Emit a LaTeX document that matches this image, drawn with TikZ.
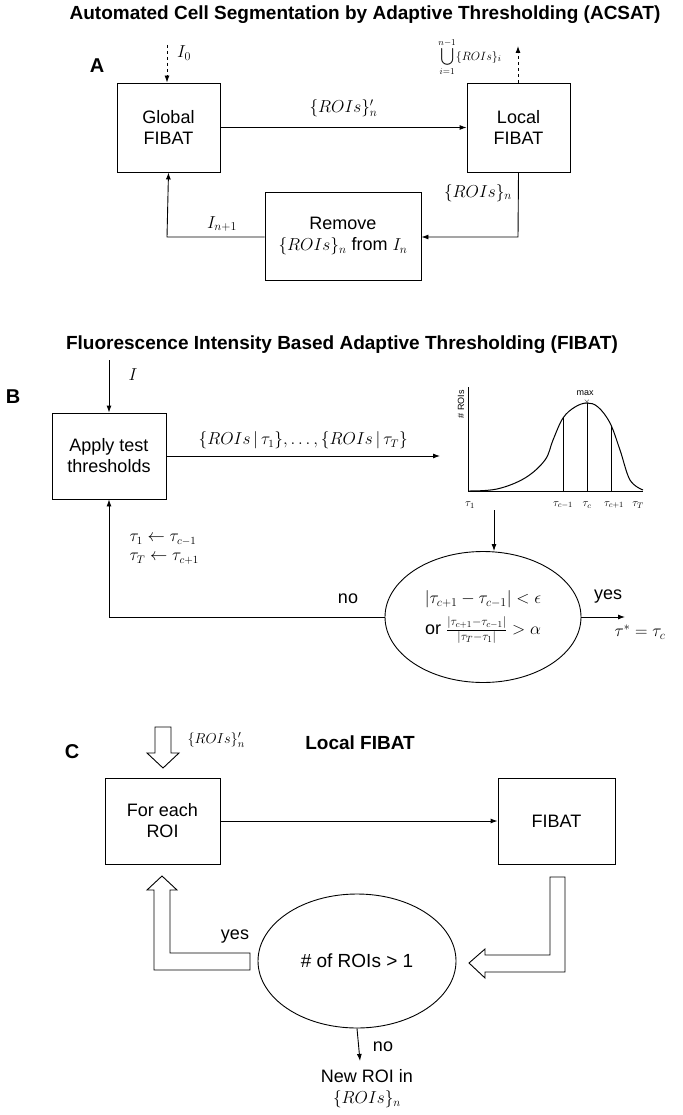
\documentclass[tikz,border=0pt]{standalone}
\usepackage{fontspec}
\setmainfont{Liberation Sans}
\usepackage{amsmath}
\usetikzlibrary{shapes.geometric,arrows.meta}
\begin{document}
\begin{tikzpicture}[x=1pt,y=-1pt,
  box/.style={draw,line width=0.9pt,inner sep=0pt,align=center,font=\fontsize{18}{21}\selectfont},
  ell/.style={draw,ellipse,line width=0.9pt,inner sep=0pt,align=center},
  ar/.style={-{Latex[length=7pt,width=5pt]},line width=0.9pt},
  ttl/.style={font=\bfseries\fontsize{19}{22}\selectfont},
  lab/.style={font=\bfseries\fontsize{20}{23}\selectfont},
  txt/.style={font=\fontsize{18}{21}\selectfont},
  hol/.style={draw,line width=0.9pt,fill=white}]
\useasboundingbox (0,0) rectangle (682,1115);
% ---------- A
\node[ttl] (ta) at (365,15) {Automated Cell Segmentation by Adaptive Thresholding (ACSAT)};
\node[lab] (la) at (97,66) {A};
\node[box,minimum width=103pt,minimum height=89pt] (glob) at (168.5,127.5) {Global\\FIBAT};
\node[box,minimum width=103pt,minimum height=89pt] (loc) at (518.5,127.5) {Local\\FIBAT};
\node[box,minimum width=156pt,minimum height=88pt] (rem) at (343,236) {Remove\\$\{ROIs\}_n$ from $I_n$};
\coordinate (i0) at (167,45);
\coordinate (uo) at (518,46);
\draw[ar,dashed] (i0) -- (glob.north-|i0);
\draw[ar,dashed] (loc.north-|uo) -- (uo);
\node[txt] at (184,53) {$I_0$};
\node[font=\fontsize{13}{15}\selectfont] at (470,57) {$\displaystyle\bigcup_{i=1}^{n-1}\{ROIs\}_i$};
\draw[ar] (glob) -- node[above=7pt,txt]{$\{ROIs\}'_n$} (loc);
\coordinate (c1) at (518,237);
\coordinate (c2) at (167,237);
\draw[ar] (loc.south) -- (c1) -- (rem.east|-c1);
\node[txt] at (478,193) {$\{ROIs\}_n$};
\draw[ar] (rem.west|-c2) -- (c2) -- (glob.south);
\node[txt] at (222,224) {$I_{n+1}$};
% ---------- B
\node[ttl] (tb) at (342,345) {Fluorescence Intensity Based Adaptive Thresholding (FIBAT)};
\node[lab] (lb) at (13,397) {B};
\coordinate (iin) at (109,360);
\node[box,minimum width=114pt,minimum height=86pt] (app) at (109,456) {Apply test\\thresholds};
\draw[ar] (iin) -- (app.north);
\node[txt] at (133,375) {$I$};
\coordinate (gr) at (440,456);
\draw[ar] (app.east|-gr) -- node[above=3pt,font=\fontsize{16}{18}\selectfont]{$\{ROIs\,|\,\tau_1\},\ldots,\{ROIs\,|\,\tau_T\}$} (gr);
% graph
\draw[line width=1pt] (468,387) -- (468,491) -- (643,491);
\draw[line width=1pt] plot[smooth,tension=0.6] coordinates{(468,491)(497,489)(525,478)(545,460)(553,440)(563,418)(575,407)(587,403)(598,407)(610,423)(620,450)(630,480)(643,490)};
\draw[line width=1pt] (563,491) -- (563,417) (587,491) -- (587,403) (611,491) -- (611,426);
\node[rotate=90,font=\fontsize{9}{10}\selectfont] at (461,404) {\# ROIs};
\node[font=\fontsize{9}{10}\selectfont] at (585,393) {max};
\node[font=\fontsize{9}{10}\selectfont] at (587,402) {$\times$};
\begin{scope}[font=\fontsize{11}{12}\selectfont]
\node at (470,505) {$\tau_1$};
\node at (563,505) {$\tau_{c-1}$};
\node at (587,505) {$\tau_c$};
\node at (614,505) {$\tau_{c+1}$};
\node at (638,505) {$\tau_T$};
\end{scope}
\node[ell,minimum width=196pt,minimum height=131pt,font=\fontsize{18}{21}\selectfont] (cond) at (483,617) {$|\tau_{c+1}-\tau_{c-1}|<\epsilon$\\[8pt] or $\frac{|\tau_{c+1}-\tau_{c-1}|}{|\tau_T-\tau_1|}>\alpha$};
\coordinate (g1) at (494,510);
\draw[ar] (g1) -- (cond.north-|g1);
\coordinate (ye) at (625,617);
\draw[ar] (cond.east) -- (ye);
\node[txt] at (608,597) {yes};
\node[txt] at (640,632) {$\tau^*=\tau_c$};
\coordinate (b1) at (109,617);
\draw[ar] (cond.west) -- (b1) -- (app.south);
\node[txt] at (348,599) {no};
\node[font=\fontsize{16}{19}\selectfont,align=left,anchor=west] at (126,549) {$\tau_1\leftarrow\tau_{c-1}$\\$\tau_T\leftarrow\tau_{c+1}$};
% ---------- C
\node[lab] (lc) at (72,752) {C};
\node[ttl] (tc) at (360,743) {Local FIBAT};
\node[box,minimum width=115pt,minimum height=86pt] (fe) at (162.5,821) {For each\\ROI};
\node[box,minimum width=117pt,minimum height=86pt] (fb) at (556.5,821) {FIBAT};
\draw[ar] (fe) -- (fb);
\node[ell,minimum width=198pt,minimum height=134pt,font=\fontsize{19}{22}\selectfont] (cnt) at (357,961) {\# of ROIs > 1};
\draw[hol] (155,727) -- (171,727) -- (171,753) -- (179,753) -- (163,768) -- (147,753) -- (155,753) -- cycle;
\node[font=\fontsize{15}{17}\selectfont,anchor=west] at (184,740) {$\{ROIs\}'_n$};
\draw[hol] (550,877) -- (565,877) -- (565,972) -- (485,972) -- (485,978) -- (469,963) -- (485,949) -- (485,955) -- (550,955) -- cycle;
\draw[hol] (250,953) -- (170,953) -- (170,890) -- (177,890) -- (162,876) -- (147,890) -- (154,890) -- (154,970) -- (250,970) -- cycle;
\node[txt] at (235,937) {yes};
\coordinate (nr) at (360,1061);
\draw[ar] (cnt.south) -- (nr);
\node[txt] at (383,1047) {no};
\node[txt,align=center] (new) at (367,1089) {New ROI in\\$\{ROIs\}_n$};
\end{tikzpicture}
\end{document}
